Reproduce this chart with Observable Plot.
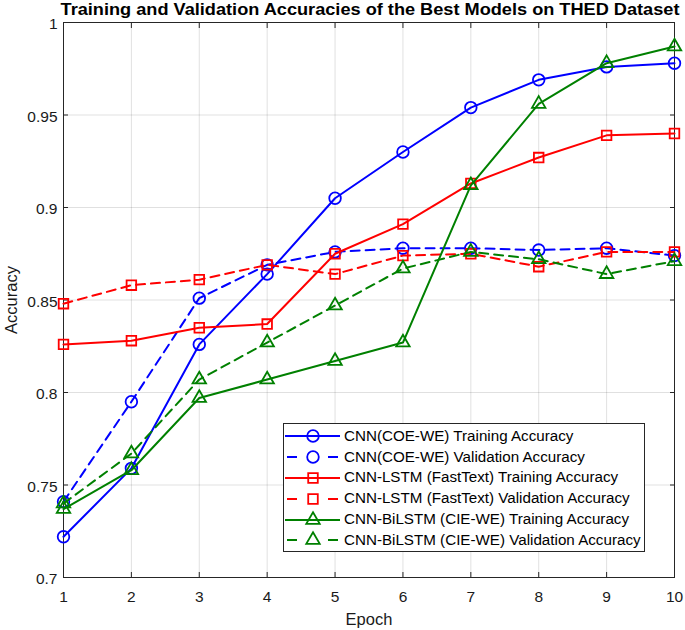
<!DOCTYPE html>
<html><head><meta charset="utf-8">
<script src="https://cdn.jsdelivr.net/npm/d3@7"></script>
<script src="https://cdn.jsdelivr.net/npm/@observablehq/plot@0.6"></script>
<style>
body{margin:0;background:#fff;}
#wrap{position:relative;width:685px;height:630px;overflow:hidden;font-family:"Liberation Sans",Arial,sans-serif;background:#fff;}
#title{position:absolute;top:1px;left:0;width:740px;text-align:center;font-weight:bold;font-size:16px;line-height:18px;color:#000;white-space:nowrap;transform:scaleX(1.135);transform-origin:370px 0;}
#legend{position:absolute;left:283px;top:423px;width:362px;height:129px;box-sizing:border-box;border:1px solid #262626;background:#fff;padding-top:2px;}
.row{height:20.8px;display:flex;align-items:center;font-size:13.8px;color:#000;white-space:nowrap;}
.row svg{flex:none;margin-right:3px;}
.row span{display:inline-block;transform:scaleX(1.1);transform-origin:0 50%;}
</style>
</head><body>
<div id="wrap">
<div id="chart"></div>
<div id="title">Training and Validation Accuracies of the Best Models on THED Dataset</div>
<div id="legend"></div>
</div>
<script>
const epochs = [1, 2, 3, 4, 5, 6, 7, 8, 9, 10];
const yTicks = [0.7, 0.75, 0.8, 0.85, 0.9, 0.95, 1];
const seriesNames = [
  "CNN(COE-WE) Training Accuracy",
  "CNN(COE-WE) Validation Accuracy",
  "CNN-LSTM (FastText) Training Accuracy",
  "CNN-LSTM (FastText) Validation Accuracy",
  "CNN-BiLSTM (CIE-WE) Training Accuracy",
  "CNN-BiLSTM (CIE-WE) Validation Accuracy"
];
const cnnTrain      = [0.722, 0.759, 0.826, 0.864, 0.905, 0.930, 0.954, 0.969, 0.976, 0.978];
const cnnVal        = [0.741, 0.795, 0.851, 0.869, 0.876, 0.878, 0.878, 0.877, 0.878, 0.874];
const lstmTrain     = [0.826, 0.828, 0.835, 0.837, 0.875, 0.891, 0.913, 0.927, 0.939, 0.940];
const lstmVal       = [0.848, 0.858, 0.861, 0.869, 0.864, 0.874, 0.875, 0.868, 0.876, 0.876];
const bilstmTrain   = [0.737, 0.758, 0.797, 0.807, 0.817, 0.827, 0.912, 0.956, 0.978, 0.987];
const bilstmVal     = [0.740, 0.767, 0.807, 0.827, 0.847, 0.867, 0.876, 0.872, 0.864, 0.871];
const seriesValues = [cnnTrain, cnnVal, lstmTrain, lstmVal, bilstmTrain, bilstmVal];

const colors = ["#0000ff", "#0000ff", "#ff0000", "#ff0000", "#008000", "#008000"];
const symbols = ["circle", "circle", "square", "square", "triangle", "triangle"];
const dashes = [null, "9,6", null, "9,6", null, "9,6"];
const radii = [5.8, 5.8, 5.4, 5.4, 5, 5];

const series = seriesNames.map((name, i) => ({
  name, color: colors[i], symbol: symbols[i], dash: dashes[i], r: radii[i],
  data: epochs.map((e, j) => ({epoch: e, acc: seriesValues[i][j]}))
}));

const FONT = '"Liberation Sans", Arial, sans-serif';
const fmt = d => String(+d.toFixed(2));

const marks = [
  Plot.gridX(epochs, {stroke: "#000", strokeOpacity: 0.12, strokeWidth: 1}),
  Plot.gridY(yTicks, {stroke: "#000", strokeOpacity: 0.12, strokeWidth: 1}),
  // inward ticks
  Plot.axisX(epochs, {anchor: "bottom", tickSize: -5, tickFormat: () => "", label: null, stroke: "#262626"}),
  Plot.axisX(epochs, {anchor: "top", tickSize: -5, tickFormat: () => "", label: null, stroke: "#262626"}),
  Plot.axisY(yTicks, {anchor: "left", tickSize: -5, tickFormat: () => "", label: null, stroke: "#262626"}),
  Plot.axisY(yTicks, {anchor: "right", tickSize: -5, tickFormat: () => "", label: null, stroke: "#262626"}),
  // labels
  Plot.axisX(epochs, {anchor: "bottom", tickSize: 0, tickPadding: 13, tickFormat: d => String(d), label: null, fontSize: 15.5, fill: "#1a1a1a"}),
  Plot.axisY(yTicks, {anchor: "left", tickSize: 0, tickPadding: 6, dy: 2, tickFormat: fmt, label: null, fontSize: 15.5, fill: "#1a1a1a"}),
  Plot.frame({stroke: "#262626", strokeWidth: 1}),
  Plot.text(["Epoch"], {frameAnchor: "bottom", dy: 47, text: d => d, fontSize: 16.5, fill: "#1a1a1a"}),
  Plot.text(["Accuracy"], {frameAnchor: "left", textAnchor: "middle", lineAnchor: "middle", dx: -52, rotate: -90, text: d => d, fontSize: 16.5, fill: "#1a1a1a"})
];
for (const s of series) {
  marks.push(Plot.line(s.data, {x: "epoch", y: "acc", stroke: s.color, strokeWidth: 2, strokeDasharray: s.dash, clip: false}));
  marks.push(Plot.dot(s.data, {x: "epoch", y: "acc", symbol: s.symbol, r: s.r, stroke: s.color, fill: "none", strokeWidth: 1.8}));
}

const chart = Plot.plot({
  width: 685,
  height: 630,
  marginLeft: 63,
  marginRight: 11,
  marginTop: 22,
  marginBottom: 53,
  x: {type: "linear", domain: [1, 10]},
  y: {type: "linear", domain: [0.7, 1]},
  style: {fontFamily: FONT, background: "#fff", overflow: "visible"},
  marks
});
document.getElementById("chart").appendChild(chart);

// legend
const legend = document.getElementById("legend");
for (const s of series) {
  const row = document.createElement("div");
  row.className = "row";
  const sz = Math.PI * s.r * s.r;
  const symPath = d3.symbol(s.symbol === "circle" ? d3.symbolCircle : s.symbol === "square" ? d3.symbolSquare : d3.symbolTriangle, sz)();
  const svg = d3.create("svg").attr("width", 57).attr("height", 20);
  if (s.dash) {
    svg.append("line").attr("x1", 3).attr("x2", 13).attr("y1", 10).attr("y2", 10).attr("stroke", s.color).attr("stroke-width", 2);
    svg.append("line").attr("x1", 44).attr("x2", 54).attr("y1", 10).attr("y2", 10).attr("stroke", s.color).attr("stroke-width", 2);
  } else {
    svg.append("line").attr("x1", 1).attr("x2", 56).attr("y1", 10).attr("y2", 10).attr("stroke", s.color).attr("stroke-width", 2);
  }
  svg.append("path").attr("d", symPath).attr("transform", "translate(29,10)").attr("fill", "none").attr("stroke", s.color).attr("stroke-width", 1.8);
  row.appendChild(svg.node());
  const span = document.createElement("span");
  span.textContent = s.name;
  row.appendChild(span);
  legend.appendChild(row);
}
</script>
</body></html>
